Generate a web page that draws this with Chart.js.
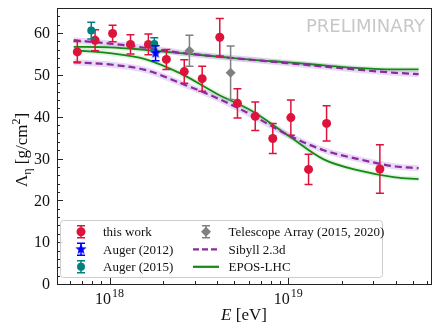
<!DOCTYPE html>
<html>
<head>
<meta charset="utf-8">
<script src="https://cdn.jsdelivr.net/npm/chart.js@4/dist/chart.umd.min.js"></script>
<style>
  html, body { margin: 0; padding: 0; background: #fff; }
  #wrap { width: 437px; height: 325px; }
</style>
</head>
<body>
<div id="wrap"><canvas id="c" width="437" height="325"></canvas></div>
<script>
// ── Data ──────────────────────────────────────────────────────────────────────
const workE   = [6.6e17, 8.3e17, 1.04e18, 1.31e18, 1.65e18, 2.08e18, 2.62e18, 3.3e18, 4.14e18, 5.2e18, 6.54e18, 8.2e18, 1.035e19, 1.30e19, 1.64e19, 3.26e19];
const workL   = [55.5, 58.3, 59.9, 57.3, 57.3, 53.7, 50.8, 49.1, 59.0, 43.2, 40.1, 34.8, 39.8, 27.4, 38.4, 27.5];
const workErr = [2.5, 2.5, 2.0, 2.3, 2.5, 2.4, 2.8, 3.0, 4.5, 3.5, 3.4, 3.6, 4.2, 3.6, 4.2, 5.8];

const auger12E = [1.81e18];
const auger12L = [55.2];
const auger12Err = [1.8];

const auger15E = [7.9e17, 1.78e18];
const auger15L = [60.6, 57.4];
const auger15Err = [2.0, 1.5];

const taE   = [2.8e18, 4.76e18];
const taL   = [55.8, 50.5];
const taErr = [3.7, 6.4];

const modelE     = [6.3e17, 1e18, 1.58e18, 2.51e18, 3.98e18, 6.31e18, 1e19, 1.58e19, 2.51e19, 3.98e19, 5.37e19];
const sibyllHigh = [58.3, 57.5, 56.5, 55.3, 54.4, 53.6, 52.8, 52.0, 51.2, 50.5, 50.2];
const sibyllLow  = [53.0, 52.5, 51.2, 48.0, 44.5, 40.3, 35.6, 32.0, 29.8, 28.1, 27.7];
const eposHigh   = [56.7, 56.6, 56.0, 55.2, 54.4, 53.6, 53.0, 52.3, 51.6, 51.3, 51.3];
const eposLow    = [55.9, 55.2, 53.8, 50.3, 45.5, 41.3, 35.5, 29.8, 27.1, 25.5, 25.1];

const yTicks  = [0, 10, 20, 30, 40, 50, 60];
const xMajors = [1e18, 1e19];

// ── Styling ───────────────────────────────────────────────────────────────────
const SERIF  = '"Liberation Serif", "DejaVu Serif", serif';
const RED    = '#dc143c';
const TEAL   = '#008080';
const BLUE   = '#0000ff';
const GREY   = '#808080';
const PURPLE = '#8a2a9c';
const GREEN  = '#138a13';

function starImg(r, color) {
    const c = document.createElement('canvas');
    c.width = c.height = 2 * r + 2;
    const g = c.getContext('2d');
    g.beginPath();
    for (let i = 0; i < 10; i++) {
        const a = -Math.PI / 2 + i * Math.PI / 5;
        const rr = i % 2 ? r * 0.42 : r;
        g.lineTo(r + 1 + rr * Math.cos(a), r + 1 + rr * Math.sin(a));
    }
    g.closePath();
    g.fillStyle = color;
    g.fill();
    return c;
}
const STAR = starImg(6, BLUE);

const pts  = (xs, ys) => xs.map((x, i) => ({ x, y: ys[i] }));
const line = (ys, color, width, dash, order) => ({
    data: pts(modelE, ys), showLine: true, borderColor: color, borderWidth: width,
    borderDash: dash, pointRadius: 0, fill: false, tension: 0.4,
    cubicInterpolationMode: 'monotone', order,
});

// ── Plugin: error bars, drawn just before each point dataset ───────────────────
const errorBarPlugin = {
    id: 'errorBars',
    beforeDatasetDraw(chart, args) {
        const ds = chart.data.datasets[args.index];
        if (!ds.errors) return;
        const ctx = chart.ctx, ys = chart.scales.y;
        const meta = chart.getDatasetMeta(args.index);
        ctx.save();
        ctx.strokeStyle = ds.errColor;
        ctx.lineWidth = 1.5;
        meta.data.forEach((p, i) => {
            const v = ds.data[i].y, e = ds.errors[i];
            const y1 = ys.getPixelForValue(v + e), y2 = ys.getPixelForValue(v - e);
            ctx.beginPath();
            ctx.moveTo(p.x, y1); ctx.lineTo(p.x, y2);
            ctx.moveTo(p.x - 4, y1); ctx.lineTo(p.x + 4, y1);
            ctx.moveTo(p.x - 4, y2); ctx.lineTo(p.x + 4, y2);
            ctx.stroke();
        });
        ctx.restore();
    },
};

// ── Plugin: frame, inward ticks, labels, titles, legend ────────────────────────
function legendMarker(ctx, kind, x, y) {
    ctx.save();
    if (kind.err) {
        ctx.strokeStyle = kind.color; ctx.lineWidth = 1.5;
        ctx.beginPath();
        ctx.moveTo(x, y - 6); ctx.lineTo(x, y + 6);
        ctx.moveTo(x - 4, y - 6); ctx.lineTo(x + 4, y - 6);
        ctx.moveTo(x - 4, y + 6); ctx.lineTo(x + 4, y + 6);
        ctx.stroke();
    }
    ctx.fillStyle = kind.color;
    if (kind.shape === 'circle') {
        ctx.beginPath(); ctx.arc(x, y, kind.r, 0, Math.PI * 2); ctx.fill();
    } else if (kind.shape === 'diamond') {
        ctx.beginPath();
        ctx.moveTo(x, y - 5); ctx.lineTo(x + 5, y); ctx.lineTo(x, y + 5); ctx.lineTo(x - 5, y);
        ctx.closePath(); ctx.fill();
    } else if (kind.shape === 'star') {
        ctx.drawImage(STAR, x - STAR.width / 2, y - STAR.height / 2);
    } else if (kind.shape === 'line') {
        ctx.strokeStyle = kind.color; ctx.lineWidth = 2.2;
        ctx.setLineDash(kind.dash || []);
        ctx.beginPath(); ctx.moveTo(x - 13, y); ctx.lineTo(x + 13, y); ctx.stroke();
    }
    ctx.restore();
}

const decorPlugin = {
    id: 'decor',
    afterDraw(chart) {
        const ctx = chart.ctx, a = chart.chartArea;
        const xs = chart.scales.x, ys = chart.scales.y;
        ctx.save();

        // PRELIMINARY watermark
        ctx.fillStyle = '#c8c8c8';
        ctx.font = '18px "DejaVu Sans", sans-serif';
        ctx.textAlign = 'right'; ctx.textBaseline = 'alphabetic';
        ctx.fillText('PRELIMINARY', a.right - 6, 31.5);

        // frame
        ctx.strokeStyle = '#222'; ctx.lineWidth = 1;
        ctx.strokeRect(Math.round(a.left) + 0.5, Math.round(a.top) + 0.5,
                       Math.round(a.right - a.left), Math.round(a.bottom - a.top));

        // y ticks (inward) and labels
        ctx.fillStyle = '#111';
        ctx.font = '16px ' + SERIF;
        ctx.textAlign = 'right'; ctx.textBaseline = 'middle';
        for (let v = 0; v <= ys.max; v += 2) {
            const y = Math.round(ys.getPixelForValue(v)) + 0.5;
            const len = v % 10 === 0 ? 6 : 3;
            ctx.beginPath(); ctx.moveTo(a.left, y); ctx.lineTo(a.left + len, y); ctx.stroke();
        }
        yTicks.forEach(v => ctx.fillText(String(v), a.left - 7, ys.getPixelForValue(v) + 1));

        // x ticks (inward, log) and labels
        for (let k = 17; k <= 19; k++) {
            for (let m = 1; m <= 9; m++) {
                const val = m * Math.pow(10, k);
                if (val < xs.min || val > xs.max) continue;
                const x = Math.round(xs.getPixelForValue(val)) + 0.5;
                const len = m === 1 ? 6 : 3;
                ctx.beginPath(); ctx.moveTo(x, a.bottom); ctx.lineTo(x, a.bottom - len); ctx.stroke();
            }
        }
        ctx.textAlign = 'left'; ctx.textBaseline = 'alphabetic';
        xMajors.forEach(val => {
            const x = xs.getPixelForValue(val);
            const exp = String(Math.round(Math.log10(val)));
            ctx.font = '16px ' + SERIF;  const w1 = ctx.measureText('10').width;
            ctx.font = '12px ' + SERIF;  const w2 = ctx.measureText(exp).width;
            const sx = x - (w1 + w2 + 1) / 2;
            ctx.font = '16px ' + SERIF;  ctx.fillText('10', sx, a.bottom + 20);
            ctx.font = '12px ' + SERIF;  ctx.fillText(exp, sx + w1 + 1, a.bottom + 13);
        });

        // x title: E [eV]
        ctx.font = 'italic 17px ' + SERIF;
        const wE = ctx.measureText('E').width;
        ctx.font = '17px ' + SERIF;
        const wR = ctx.measureText(' [eV]').width;
        const cx = (a.left + a.right) / 2 - (wE + wR) / 2;
        ctx.font = 'italic 17px ' + SERIF; ctx.fillText('E', cx, 319.5);
        ctx.font = '17px ' + SERIF;        ctx.fillText(' [eV]', cx + wE, 319.5);

        // y title: Λη [g/cm²], rotated
        ctx.save();
        ctx.translate(27, 150);
        ctx.rotate(-Math.PI / 2);
        const parts = [
            { t: 'Λ', f: '17px ', dy: 0 },
            { t: 'η', f: '12px ', dy: 4 },
            { t: ' [g/cm', f: '17px ', dy: 0 },
            { t: '2', f: '12px ', dy: -7 },
            { t: ']', f: '17px ', dy: 0 },
        ];
        let tw = 0;
        parts.forEach(p => { ctx.font = p.f + SERIF; p.w = ctx.measureText(p.t).width; tw += p.w; });
        let px = -tw / 2;
        parts.forEach(p => { ctx.font = p.f + SERIF; ctx.fillText(p.t, px, p.dy); px += p.w; });
        ctx.restore();

        // legend
        const lx = a.left + 3, ly = 220, lw = 322, lh = 57;
        ctx.fillStyle = 'rgba(255,255,255,0.8)';
        ctx.strokeStyle = '#cccccc';
        ctx.beginPath(); ctx.roundRect(lx + 0.5, ly + 0.5, lw, lh, 3); ctx.fill(); ctx.stroke();
        const rows = [231.7, 249.3, 266.8];
        const col1 = [
            { label: 'this work',    kind: { shape: 'circle', r: 4.5, color: RED,  err: true } },
            { label: 'Auger (2012)', kind: { shape: 'star',             color: BLUE, err: true } },
            { label: 'Auger (2015)', kind: { shape: 'circle', r: 4,   color: TEAL, err: true } },
        ];
        const col2 = [
            { label: 'Telescope Array (2015, 2020)', kind: { shape: 'diamond', color: GREY, err: true } },
            { label: 'Sibyll 2.3d', kind: { shape: 'line', color: PURPLE, dash: [6, 3] } },
            { label: 'EPOS-LHC',    kind: { shape: 'line', color: GREEN } },
        ];
        ctx.font = '13px ' + SERIF;
        ctx.textBaseline = 'middle'; ctx.textAlign = 'left';
        col1.forEach((e, i) => {
            legendMarker(ctx, e.kind, 81, rows[i]);
            ctx.fillStyle = '#111'; ctx.fillText(e.label, 103, rows[i] + 1);
        });
        col2.forEach((e, i) => {
            legendMarker(ctx, e.kind, 206, rows[i]);
            ctx.fillStyle = '#111'; ctx.fillText(e.label, 228.5, rows[i] + 1);
        });
        ctx.restore();
    },
};

// ── Chart ─────────────────────────────────────────────────────────────────────
new Chart(document.getElementById('c'), {
    type: 'scatter',
    data: {
        datasets: [
            // glow bands under the model curves
            line(sibyllHigh, 'rgba(170,120,225,0.28)', 6, [], 20),
            line(sibyllLow,  'rgba(170,120,225,0.28)', 6, [], 20),
            line(eposHigh,   'rgba(70,160,70,0.15)',   5, [], 20),
            line(eposLow,    'rgba(70,160,70,0.15)',   5, [], 20),
            // model curves
            line(sibyllHigh, PURPLE, 2.2, [7, 4], 10),
            line(sibyllLow,  PURPLE, 2.2, [7, 4], 10),
            line(eposHigh,   GREEN,  1.8, [], 11),
            line(eposLow,    GREEN,  1.8, [], 11),
            // measurements
            { data: pts(taE, taL), errors: taErr, errColor: GREY, pointStyle: 'rectRot',
              pointRadius: 5, backgroundColor: GREY, borderColor: GREY, borderWidth: 0, order: 4 },
            { data: pts(workE, workL), errors: workErr, errColor: RED, pointStyle: 'circle',
              pointRadius: 4.5, backgroundColor: RED, borderColor: RED, borderWidth: 0, order: 3 },
            { data: pts(auger15E, auger15L), errors: auger15Err, errColor: TEAL, pointStyle: 'circle',
              pointRadius: 4, backgroundColor: TEAL, borderColor: TEAL, borderWidth: 0, order: 2 },
            { data: pts(auger12E, auger12L), errors: auger12Err, errColor: BLUE, pointStyle: STAR,
              pointRadius: 6, backgroundColor: BLUE, borderColor: BLUE, borderWidth: 0, order: 1 },
        ],
    },
    options: {
        responsive: false, animation: false, events: [],
        layout: { padding: { left: 57, right: 3, top: 8, bottom: 41 } },
        plugins: { legend: { display: false }, tooltip: { enabled: false } },
        scales: {
            x: { type: 'logarithmic', min: 5.08e17, max: 6.3e19,
                 grid: { display: false, drawTicks: false }, border: { display: false },
                 ticks: { display: false } },
            y: { type: 'linear', min: 0, max: 66,
                 grid: { display: false, drawTicks: false }, border: { display: false },
                 ticks: { display: false } },
        },
    },
    plugins: [errorBarPlugin, decorPlugin],
});
</script>
</body>
</html>
